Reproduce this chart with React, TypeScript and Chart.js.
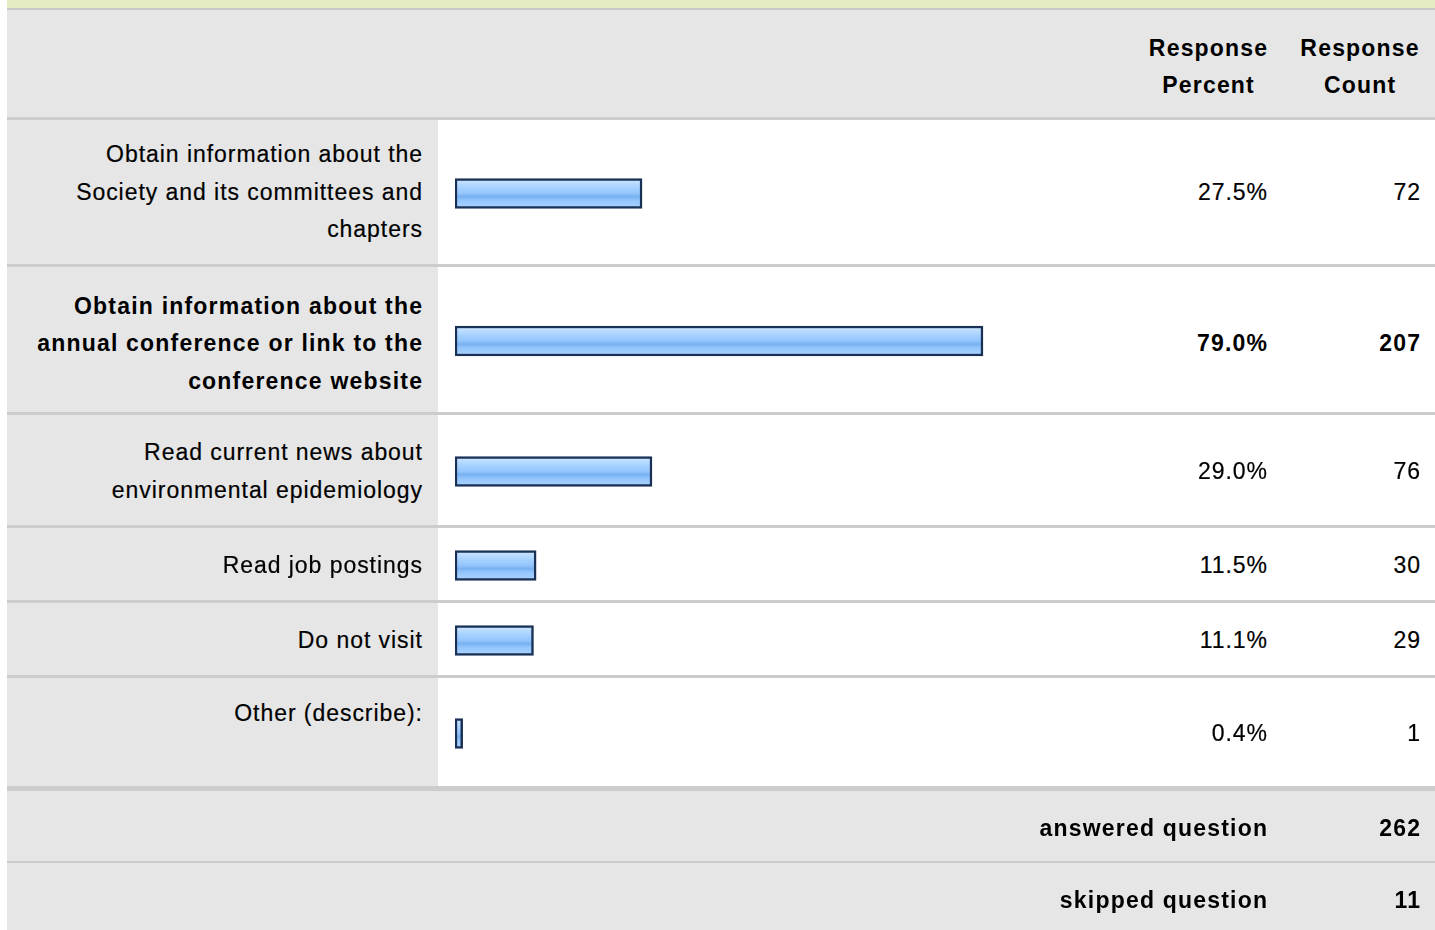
import React, { useEffect, useRef } from "react";
import { Chart, registerables } from "chart.js";

Chart.register(...registerables);

// ---------- data ----------
const categoryLines: string[][] = [
  ["Obtain information about the", "Society and its committees and", "chapters"],
  ["Obtain information about the", "annual conference or link to the", "conference website"],
  ["Read current news about", "environmental epidemiology"],
  ["Read job postings"],
  ["Do not visit"],
  ["Other (describe):"],
];
const responsePercent = [27.5, 79.0, 29.0, 11.5, 11.1, 0.4];
const responseCount = [72, 207, 76, 30, 29, 1];
const highlighted = [false, true, false, false, false, false];
const percentHeader = ["Response", "Percent"];
const countHeader = ["Response", "Count"];
const summaryLabels = ["answered question", "skipped question"];
const summaryValues = [262, 11];
const percentAxisRange = [0, 100];

// ---------- layout / style ----------
const FONT = '"Liberation Sans", Arial, Helvetica, sans-serif';
const FONT_SIZE = 23;
const LINE_H = 37.5;
const LS_REG = 0.95;
const LS_BOLD = 1.2;
const GRAY = "#e6e6e6";
const SEP = "#cccccc";
const ROW_H = [144, 145, 110, 72, 72, 108];
const ROW_TOP = [false, false, false, false, false, true];
const ROW_TEXT_PAD = [1, 9, 3, 3, 3, 3];
const COL_W = [431, 694, 152, 151];
const BAR_ORIGIN_OFFSET = 0.755; // room for the bar border left of zero

function BarCanvas({ value, width, height }: { value: number; width: number; height: number }) {
  const ref = useRef<HTMLCanvasElement | null>(null);
  useEffect(() => {
    const canvas = ref.current;
    if (!canvas) return;
    const base = percentAxisRange[0] - BAR_ORIGIN_OFFSET;
    const chart = new Chart(canvas, {
      type: "bar",
      data: {
        labels: [""],
        datasets: [
          {
            data: [value],
            base,
            barThickness: 30,
            borderWidth: 2.5,
            borderColor: "#1a3156",
            borderSkipped: false,
            backgroundColor: (c: any) => {
              const ch = c.chart;
              const area = ch.chartArea;
              if (!area) return "#93c5fd";
              const cy = (area.top + area.bottom) / 2;
              const g = ch.ctx.createLinearGradient(0, cy - 13, 0, cy + 13);
              g.addColorStop(0, "#c8e3ff");
              g.addColorStop(0.15, "#b4d9ff");
              g.addColorStop(0.32, "#a2cfff");
              g.addColorStop(0.5, "#92c5fc");
              g.addColorStop(0.62, "#78b1f0");
              g.addColorStop(0.76, "#92c5fc");
              g.addColorStop(1, "#a6d0ff");
              return g;
            },
          } as any,
        ],
      },
      options: {
        indexAxis: "y",
        responsive: false,
        maintainAspectRatio: false,
        animation: false,
        events: [],
        layout: { padding: { left: 17, right: 10, top: 3, bottom: 0 } },
        scales: {
          x: { type: "linear", min: base, max: percentAxisRange[1], display: false },
          y: { display: false },
        },
        plugins: { legend: { display: false }, tooltip: { enabled: false } },
      },
    });
    return () => chart.destroy();
  }, [value, width, height]);
  return <canvas ref={ref} width={width} height={height} style={{ display: "block", width, height }} />;
}

const textStyle = (bold: boolean): React.CSSProperties => ({
  fontFamily: FONT,
  fontSize: FONT_SIZE,
  lineHeight: `${LINE_H}px`,
  fontWeight: bold ? 700 : 400,
  letterSpacing: bold ? LS_BOLD : LS_REG,
  color: "#000",
  whiteSpace: "nowrap",
  WebkitTextStroke: bold ? "0px" : "0.2px #000",
});

function Sep({ h }: { h: number }) {
  return <div style={{ height: h, background: SEP }} />;
}

export default function App() {
  const rows = categoryLines.map((lines, i) => {
    const bold = highlighted[i];
    const ls = bold ? LS_BOLD : LS_REG;
    return (
      <React.Fragment key={i}>
        <div style={{ display: "flex", height: ROW_H[i] }}>
          <div
            style={{
              width: COL_W[0],
              background: GRAY,
              display: "flex",
              flexDirection: "column",
              justifyContent: ROW_TOP[i] ? "flex-start" : "center",
              alignItems: "flex-end",
              paddingTop: ROW_TOP[i] ? 17 : ROW_TEXT_PAD[i],
              paddingRight: 16 - ls,
              boxSizing: "border-box",
              ...textStyle(bold),
              textAlign: "right",
            }}
          >
            {lines.map((l, j) => (
              <div key={j}>{l}</div>
            ))}
          </div>
          <div style={{ width: COL_W[1], background: "#fff" }}>
            <BarCanvas value={responsePercent[i]} width={COL_W[1]} height={ROW_H[i]} />
          </div>
          <div
            style={{
              width: COL_W[2],
              background: "#fff",
              display: "flex",
              alignItems: "center",
              justifyContent: "flex-end",
              paddingTop: ROW_TEXT_PAD[i],
              paddingRight: 17 - ls,
              boxSizing: "border-box",
              ...textStyle(bold),
            }}
          >
            {responsePercent[i].toFixed(1) + "%"}
          </div>
          <div
            style={{
              width: COL_W[3],
              background: "#fff",
              display: "flex",
              alignItems: "center",
              justifyContent: "flex-end",
              paddingTop: ROW_TEXT_PAD[i],
              paddingRight: 15 - ls,
              boxSizing: "border-box",
              ...textStyle(bold),
            }}
          >
            {String(responseCount[i])}
          </div>
        </div>
        {i < categoryLines.length - 1 ? <Sep h={3} /> : <Sep h={5} />}
      </React.Fragment>
    );
  });

  const footerH = [70, 67];
  const footer = summaryLabels.map((lab, i) => (
    <React.Fragment key={lab}>
      <div style={{ display: "flex", height: footerH[i], background: GRAY }}>
        <div
          style={{
            width: COL_W[0] + COL_W[1] + COL_W[2],
            display: "flex",
            alignItems: "center",
            justifyContent: "flex-end",
            paddingTop: i === 0 ? 6 : 8,
            paddingRight: 17 - LS_BOLD,
            boxSizing: "border-box",
            ...textStyle(true),
          }}
        >
          {lab}
        </div>
        <div
          style={{
            width: COL_W[3],
            display: "flex",
            alignItems: "center",
            justifyContent: "flex-end",
            paddingTop: i === 0 ? 6 : 8,
            paddingRight: 15 - LS_BOLD,
            boxSizing: "border-box",
            ...textStyle(true),
          }}
        >
          {String(summaryValues[i])}
        </div>
      </div>
      {i === 0 ? <Sep h={2} /> : null}
    </React.Fragment>
  ));

  const headerCell = (lines: string[], w: number) => (
    <div
      style={{
        width: w,
        display: "flex",
        flexDirection: "column",
        justifyContent: "center",
        alignItems: "center",
        paddingTop: 7,
        paddingLeft: LS_BOLD,
        boxSizing: "border-box",
        ...textStyle(true),
      }}
    >
      {lines.map((l, j) => (
        <div key={j}>{l}</div>
      ))}
    </div>
  );

  return (
    <div
      style={{
        position: "absolute",
        left: 7,
        top: 0,
        width: COL_W.reduce((a, b) => a + b, 0),
        height: 930,
        overflow: "hidden",
        background: "#fff",
      }}
    >
      <div style={{ height: 8, background: "#e5ebc2" }} />
      <div style={{ height: 2, background: "#c9c9c9" }} />
      <div style={{ display: "flex", height: 107, background: GRAY }}>
        <div style={{ width: COL_W[0] + COL_W[1] }} />
        {headerCell(percentHeader, COL_W[2])}
        {headerCell(countHeader, COL_W[3])}
      </div>
      <Sep h={3} />
      {rows}
      {footer}
    </div>
  );
}
